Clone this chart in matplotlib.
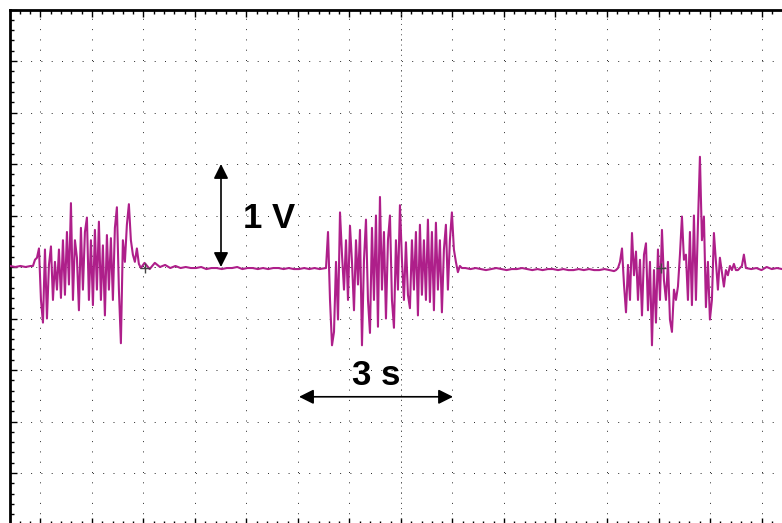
import numpy as np
import matplotlib
matplotlib.use("Agg")
from matplotlib import pyplot as plt

# scope settings: 1 s/div, 0.5 V/div
t_range = (-7.592, 7.398)
v_range = (-2.5, 2.5)
dt_fast = 0.0388
dt_slow = 0.1

# trace pieces (volts)
base0_v = [0.01, 0.0, 0.01, 0.0, 0.01]
burst1_v = [0.01, 0.07, 0.09, 0.18, -0.32, -0.54, 0.17, -0.50, 0.02, 0.20,
            -0.32, 0.05, -0.22, 0.17, -0.30, 0.26, -0.27, 0.34, -0.17, 0.62,
            -0.32, 0.26, 0.09, -0.42, 0.38, -0.22, 0.34, 0.48, -0.32, 0.26,
            -0.37, 0.36, -0.22, 0.44, -0.32, 0.21, -0.47, 0.31, -0.22, 0.28,
            -0.32, 0.38, 0.58, -0.22, -0.74, 0.26, 0.05, 0.41, 0.61, 0.26,
            0.12, 0.05, 0.18, 0.03, -0.01]
base1_v = [0.04, -0.02, 0.04, 0.0, 0.02, -0.01, 0.01, -0.01, 0.0, -0.01,
           -0.01, 0.0, -0.02, -0.01, -0.01, -0.02, -0.01, -0.01, 0.0, -0.02,
           -0.01, -0.01, -0.02, -0.01, -0.02, -0.01, -0.01, -0.02, -0.01, -0.02,
           -0.02, -0.01, -0.02, -0.01, -0.02]
burst2_v = [-0.01, 0.34, -0.32, -0.76, -0.63, 0.05, -0.51, 0.53, 0.12, -0.22,
            0.26, -0.32, 0.40, 0.05, -0.42, 0.26, -0.17, 0.36, -0.76, 0.07,
            0.46, -0.32, -0.64, 0.38, -0.32, 0.50, -0.58, 0.68, -0.22, 0.34,
            -0.50, 0.26, 0.50, -0.32, -0.59, 0.26, -0.22, 0.60, 0.07, -0.32,
            0.24, -0.27, -0.40, 0.26, -0.22, 0.34, -0.47, 0.41, -0.27, 0.26,
            -0.32, 0.46, -0.34, 0.34, -0.42, 0.43, -0.22, 0.26, -0.44, 0.17,
            0.41, -0.22, 0.26, 0.53, 0.17, 0.05, -0.05, 0.01, -0.01]
base2_v = [-0.01, -0.02, -0.01, -0.02, -0.03, -0.02, -0.01, -0.02, -0.03, -0.02,
           -0.02, -0.01, -0.02, -0.03, -0.02, -0.03, -0.02, -0.02, -0.03, -0.02,
           -0.03, -0.03, -0.02, -0.03, -0.02, -0.03, -0.03, -0.02, -0.03]
burst3_v = [-0.04, -0.03, -0.01, 0.05, 0.18, -0.17, -0.44, 0.02, -0.32, 0.33,
            -0.08, 0.15, -0.32, 0.07, -0.47, 0.12, 0.23, -0.42, 0.05, -0.76,
            -0.03, -0.54, 0.17, -0.32, 0.36, -0.13, -0.32, 0.05, -0.51, -0.63,
            -0.22, -0.32, -0.19, 0.12, 0.49, 0.07, 0.12, -0.32, 0.34, -0.37,
            0.50, -0.32, 0.41, 1.07, 0.26, 0.49, -0.39, 0.05, -0.51, -0.32,
            0.33, 0.05, -0.22, 0.09, -0.05, -0.19, -0.03, -0.08, 0.01, -0.03,
            0.03, -0.03, -0.03, -0.01, 0.01, 0.12, -0.01]
base3_v = [-0.02, -0.01, -0.03, 0.0, -0.02, -0.01, -0.02]

# (start time, step, values)
segments = [(-7.59, dt_slow, base0_v), (-7.146, dt_fast, burst1_v),
            (-4.98, dt_slow, base1_v), (-1.456, dt_fast, burst2_v),
            (1.25, dt_slow, base2_v), (4.136, dt_fast, burst3_v),
            (6.80, dt_slow, base3_v)]

cursor_t = [-4.97, 5.05]
cursor_v = [-0.01, -0.01]

t = np.concatenate([t0 + dt * np.arange(len(v)) for t0, dt, v in segments])
v = np.concatenate([np.array(v, float) for t0, dt, v in segments])

fig = plt.figure(figsize=(7.82, 5.23), dpi=100)
ax = fig.add_axes([10 / 782, -1.5 / 523, 772 / 782, 515 / 523])
ax.set_xlim(*t_range)
ax.set_ylim(*v_range)

ax.set_xticks(np.arange(-7, 8, 1.0))
ax.set_xticks(np.arange(-7.4, 7.4, 0.2), minor=True)
ax.set_yticks(np.arange(-2.5, 2.51, 0.5))
ax.set_yticks(np.arange(-2.5, 2.51, 0.1), minor=True)
ax.tick_params(which='both', direction='in', top=True, bottom=True,
               left=True, right=False, labelleft=False, labelbottom=False,
               color='black', width=1.0)
ax.tick_params(which='major', length=5)
ax.tick_params(which='minor', length=3)

ax.grid(True, which='major', color='#333333', linewidth=0.72,
        linestyle=(0, (1, 9.3)))
ax.axvline(0, color='#555555', linewidth=0.72, linestyle=(0, (1, 4.15)))
ax.axhline(0, color='#555555', linewidth=0.72, linestyle=(0, (1, 4.15)))

for side in ['right', 'bottom']:
    ax.spines[side].set_visible(False)
ax.spines['left'].set_linewidth(2.0)
ax.spines['top'].set_linewidth(2.0)

ax.plot(t, v, color='#AE1F8A', linewidth=1.5, zorder=3)
ax.plot(cursor_t, cursor_v, linestyle='none', marker='+', markersize=7,
        markeredgewidth=1.0, color='#444444', zorder=4)

# scale markers
ax.annotate('', xy=(-3.495, 1.0), xytext=(-3.495, 0.0),
            arrowprops=dict(arrowstyle='<|-|>', color='black', lw=1.2,
                            mutation_scale=22, shrinkA=0, shrinkB=0), zorder=5)
ax.annotate('', xy=(1.01, -1.26), xytext=(-1.98, -1.26),
            arrowprops=dict(arrowstyle='<|-|>', color='black', lw=1.2,
                            mutation_scale=22, shrinkA=0, shrinkB=0), zorder=5)
ax.text(-3.07, 0.38, '1 V', fontsize=25, fontweight='bold',
        family='Liberation Sans', ha='left', va='baseline', zorder=5)
ax.text(-0.95, -1.146, '3 s', fontsize=25, fontweight='bold',
        family='Liberation Sans', ha='left', va='baseline', zorder=5)

fig.savefig('out.png', dpi=100)
